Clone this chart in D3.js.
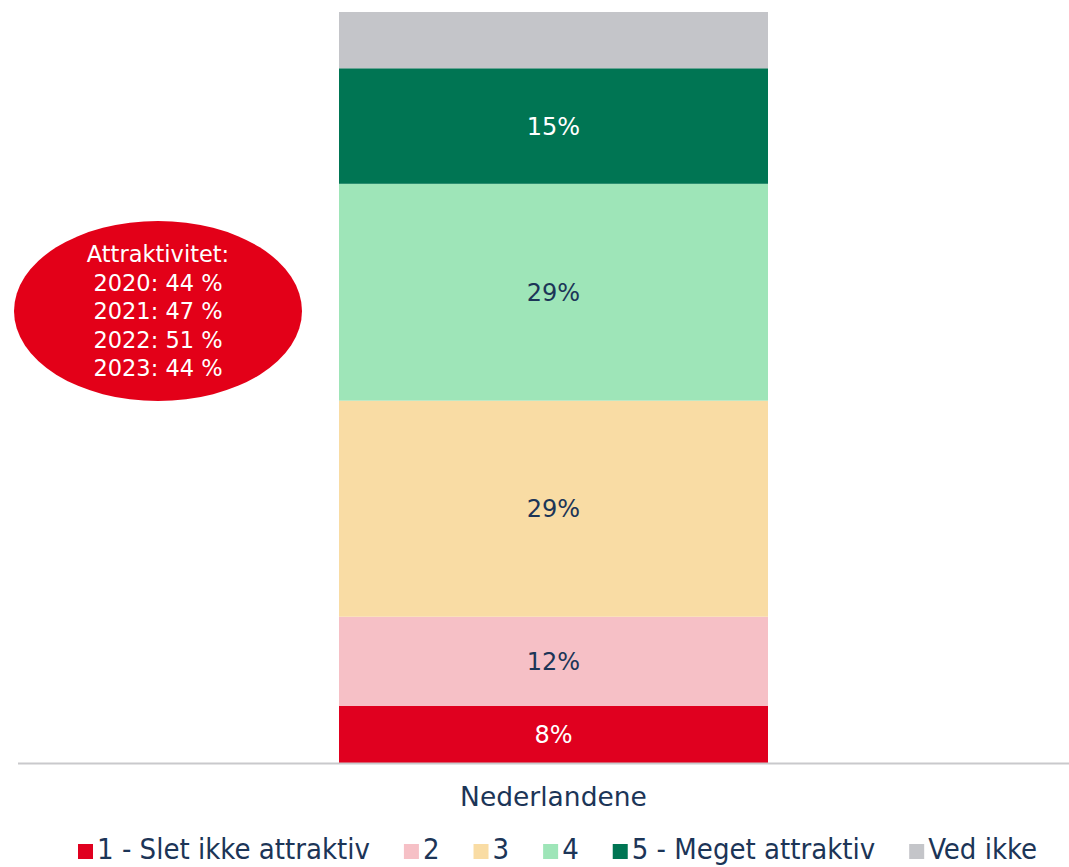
<!DOCTYPE html>
<html><head><meta charset="utf-8">
<script src="https://cdn.jsdelivr.net/npm/d3@7"></script>
<style>body{margin:0;background:#fff}svg{display:block}</style>
</head><body>
<svg id="c" width="1069" height="867"></svg>
<script>
const categories = ["Nederlandene"];
const series = ["1 - Slet ikke attraktiv", "2", "3", "4", "5 - Meget attraktiv", "Ved ikke"];
const values = [7.6, 11.9, 28.8, 28.9, 15.4, 7.5];
const labels = ["8%", "12%", "29%", "29%", "15%", ""];
const colors = ["#e0001f", "#f6c0c6", "#f9dca4", "#9ee5b8", "#007553", "#c4c5c9"];
const labelColors = ["#ffffff", "#1c3557", "#1c3557", "#1c3557", "#ffffff", "#1c3557"];
const calloutLines = ["Attraktivitet:", "2020: 44 %", "2021: 47 %", "2022: 51 %", "2023: 44 %"];

const svg = d3.select("#c");
const mainFont = "'DejaVu Sans', sans-serif";
const navy = "#1c3557";

const x = d3.scaleBand().domain(categories).range([339, 768]).padding(0);
const total = d3.sum(values);
const y = d3.scaleLinear().domain([0, total]).range([763, 12]);

let cum = 0;
const stacked = values.map((v, i) => { const d = {i, y0: cum, y1: cum + v}; cum += v; return d; });

const g = svg.append("g");
g.selectAll("rect").data(stacked).join("rect")
  .attr("x", x(categories[0]))
  .attr("width", x.bandwidth())
  .attr("y", d => y(d.y1))
  .attr("height", d => y(d.y0) - y(d.y1))
  .attr("fill", d => colors[d.i]);

g.selectAll("text.lbl").data(stacked).join("text")
  .attr("class", "lbl")
  .attr("x", x(categories[0]) + x.bandwidth() / 2)
  .attr("y", d => (y(d.y0) + y(d.y1)) / 2)
  .attr("dy", "0.36em")
  .attr("text-anchor", "middle")
  .attr("font-family", mainFont)
  .attr("font-size", 24)
  .attr("fill", d => labelColors[d.i])
  .text(d => labels[d.i]);

// axis
const axis = d3.axisBottom(x).tickSize(0).tickPadding(24);
const ax = svg.append("g").attr("transform", "translate(0,763)").call(axis);
ax.select(".domain").attr("d", "M18,0.5H1069").attr("stroke", "#c9c9cc").attr("stroke-width", 2);
ax.selectAll("text").attr("font-family", mainFont).attr("font-size", 26.5).attr("fill", navy)
  .attr("dy", "0.71em");

// callout ellipse
const cg = svg.append("g");
cg.append("ellipse").attr("cx", 158).attr("cy", 311).attr("rx", 144).attr("ry", 90).attr("fill", "#e30018");
cg.selectAll("text").data(calloutLines).join("text")
  .attr("x", 158).attr("y", (d, i) => 262 + i * 28.5)
  .attr("text-anchor", "middle")
  .attr("font-family", mainFont).attr("font-size", 22.5).attr("fill", "#fff")
  .text(d => d);

// legend
const legFont = "'Liberation Sans Narrow', 'DejaVu Sans Condensed', sans-serif";
const lg = svg.append("g").attr("transform", "translate(0,859)");
let lx = 78;
series.forEach((s, i) => {
  lg.append("rect").attr("x", lx).attr("y", -15).attr("width", 15).attr("height", 15).attr("fill", colors[i]);
  const t = lg.append("text").attr("x", lx + 19).attr("y", 0)
    .attr("font-family", legFont).attr("font-size", 29).attr("fill", navy).text(s);
  const w = t.node().getComputedTextLength();
  lx += 19 + w + 34;
});
</script>
</body></html>
